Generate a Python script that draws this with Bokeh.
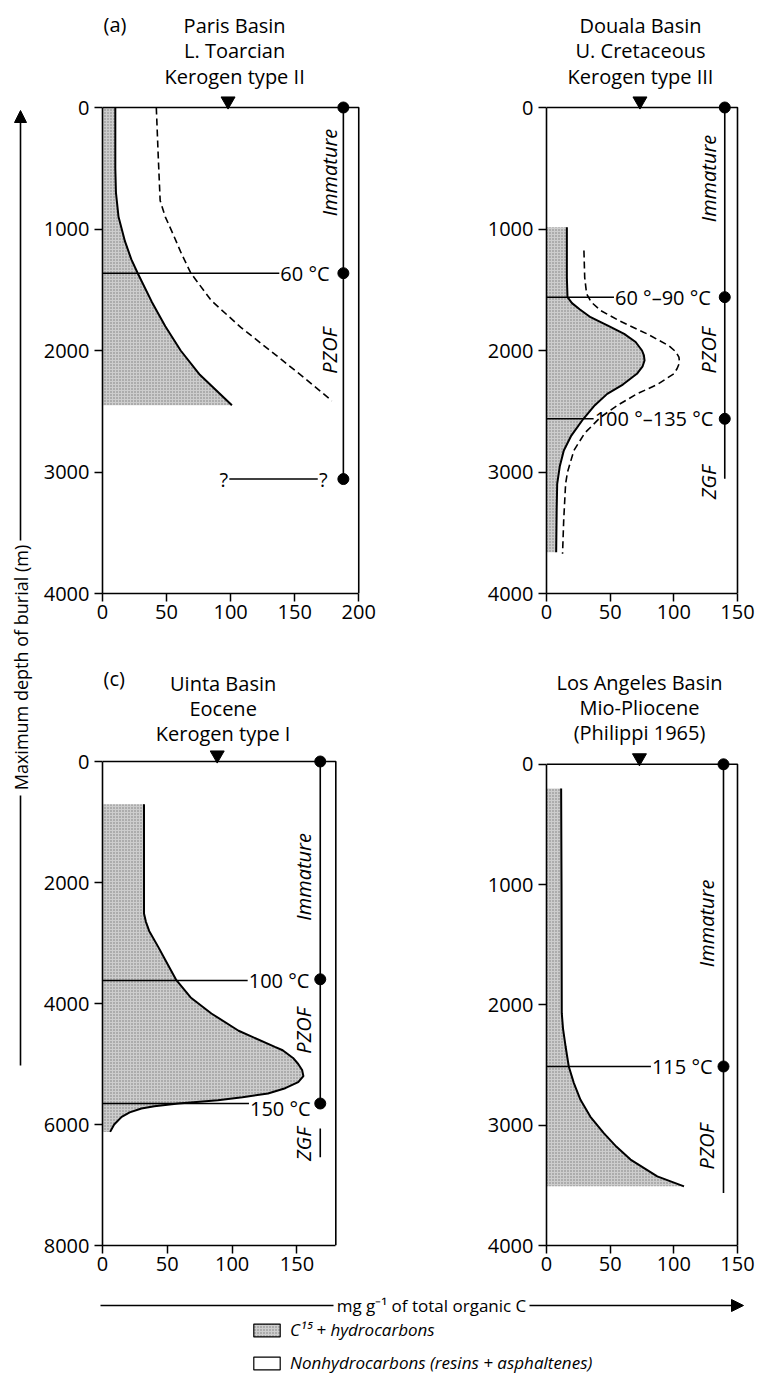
import numpy as np
from bokeh.plotting import figure
from bokeh.models import Range1d, FixedTicker, Arrow, NormalHead, Legend, LegendItem, Label
from bokeh.layouts import row, column
from bokeh.embed import file_html
from bokeh.resources import INLINE
from bokeh.core.properties import value

FONT = "Open Sans"

# ---------------- data ----------------
# (a) Paris Basin, L. Toarcian, kerogen type II
A_HC_DEPTH = [0, 500, 700, 900, 1100, 1250, 1364, 1600, 1800, 2000, 2200, 2450]
A_HC = [10, 10, 10.5, 12.5, 17.5, 22.5, 27.5, 38.5, 49, 61, 76, 101]
A_TOT_DEPTH = [0, 400, 766, 900, 1040, 1200, 1364, 1590, 1810, 2002, 2221, 2414]
A_TOT = [42, 43.5, 45, 49, 55, 61.5, 69, 85, 108, 131, 157, 179]
A_TEMP_DEPTH = [1364]
A_TEMP_END = [138]
A_TEMP_LABEL = ["60 °C"]
A_DOTS = [0, 1364, 3058]
A_ZONE_LINE = [(0, 3058)]
A_ZONES = ["Immature", "PZOF"]
A_ZONE_DEPTH = [535, 2002]
A_UNKNOWN_DEPTH = 3058
A_UNKNOWN_SPAN = (99, 168)

# (b) Douala Basin, U. Cretaceous, kerogen type III
B_HC_DEPTH = [985, 1200, 1400, 1561, 1610, 1660, 1726, 1800, 1863, 1930, 2000, 2040, 2082, 2130,
              2192, 2280, 2357, 2450, 2562, 2700, 2823, 2950, 3097, 3300, 3660]
B_HC = [16, 16, 16, 16.5, 20, 26, 34.6, 49, 61, 70, 75, 76.5, 77, 75.5,
        71, 60, 47.7, 38, 29, 19.5, 13.6, 10.5, 8.4, 8, 7.6]
B_TOT_DEPTH = [1177, 1400, 1533, 1600, 1671, 1760, 1863, 1960, 2010, 2055, 2100, 2150, 2192, 2280,
               2357, 2450, 2549, 2680, 2823, 3000, 3097, 3400, 3673]
B_TOT = [29.4, 30, 31.5, 35, 42.5, 58, 79, 96, 101.5, 104, 104.5, 102.5, 100, 87,
         71, 56, 42.5, 30, 21.5, 16.5, 15, 13.5, 12.6]
B_TEMP_DEPTH = [1561, 2562]
B_TEMP_END = [53, 37]
B_TEMP_LABEL = ["60 °–90 °C", "100 °–135 °C"]
B_DOTS = [0, 1561, 2562]
B_ZONE_LINE = [(0, 3056)]
B_ZONES = ["Immature", "PZOF", "ZGF"]
B_ZONE_DEPTH = [584, 2000, 3086]

# (c) Uinta Basin, Eocene, kerogen type I
C_HC_DEPTH = [706, 1500, 2512, 2650, 2800, 3064, 3300, 3615, 3900, 4165, 4450, 4717, 4772,
              4900, 5000, 5100, 5200, 5300, 5400, 5488, 5550, 5598, 5653, 5700, 5736,
              5800, 5874, 6000, 6122]
C_HC = [32, 32, 32, 33.5, 36, 43, 49, 57, 68, 84, 105, 133, 139,
        147, 151, 154, 155, 151, 141, 127.7, 108, 89, 58.5, 40, 30,
        21, 14.8, 9, 5.9]
C_TEMP_DEPTH = [3620, 5653]
C_TEMP_END = [112, 113]
C_TEMP_LABEL = ["100 °C", "150 °C"]
C_DOTS = [0, 3600, 5653]
C_ZONE_LINE = [(0, 5653), (6066, 6543)]
C_ZONES = ["Immature", "PZOF", "ZGF"]
C_ZONE_DEPTH = [1907, 4450, 6325]

# (d) Los Angeles Basin, Mio-Pliocene
D_HC_DEPTH = [202, 1000, 2069, 2200, 2346, 2512, 2650, 2789, 2930, 3066, 3180, 3286, 3425, 3508]
D_HC = [11.5, 11.8, 12, 13, 15, 17.5, 21.5, 26.7, 34.5, 45, 55, 66, 87, 108]
D_TEMP_DEPTH = [2512]
D_TEMP_END = [82]
D_TEMP_LABEL = ["115 °C"]
D_DOTS = [0, 2512]
D_ZONE_LINE = [(0, 3563)]
D_ZONES = ["Immature", "PZOF"]
D_ZONE_DEPTH = [1322, 3178]

DEPTH_TICKS_4000 = [0, 1000, 2000, 3000, 4000]
DEPTH_TICKS_8000 = [0, 2000, 4000, 6000, 8000]
CONC_TICKS_200 = [0, 50, 100, 150, 200]
CONC_TICKS_150 = [0, 50, 100, 150]

HC_FILL = "#cdcdcd"
INK = "black"


def make_panel(cfg):
    fx, fy, fw, fh = cfg["box"]
    x0px, sx, y0px, sy = cfg["calib"]
    xmax, ymax = cfg["xmax"], cfg["ymax"]
    bottom_px = y0px + ymax * sy
    p = figure(width=fw, height=fh, output_backend="svg", toolbar_location=None,
               x_range=Range1d(0, (fx + fw - x0px) / sx),
               y_range=Range1d(ymax, -(y0px - fy) / sy),
               min_border_left=int(round(x0px - fx)), min_border_right=0,
               min_border_top=0, min_border_bottom=int(round(fy + fh - bottom_px)))
    p.outline_line_color = None
    p.xgrid.visible = False
    p.ygrid.visible = False
    for ax, ticks, bounds in ((p.xaxis[0], cfg["xticks"], (0, xmax)),
                              (p.yaxis[0], cfg["yticks"], (0, ymax))):
        ax.ticker = FixedTicker(ticks=ticks)
        ax.bounds = bounds
        ax.minor_tick_line_color = None
        ax.major_tick_out = 8
        ax.major_tick_in = 0
        ax.major_tick_line_width = 1.5
        ax.major_tick_line_color = INK
        ax.axis_line_width = 1.6
        ax.axis_line_color = INK
        ax.major_label_text_font = FONT
        ax.major_label_text_font_size = "20px"
        ax.major_label_text_color = INK
    p.xaxis.major_label_standoff = 3
    p.yaxis.major_label_standoff = 5

    def px2d(px, py):
        return (px - x0px) / sx, (py - y0px) / sy

    # shaded C15+ hydrocarbons
    p.harea(x1=0, x2=cfg["hc"], y=cfg["hc_d"], fill_color=HC_FILL,
            hatch_pattern="dot", hatch_color="#7a7a7a", hatch_scale=3, hatch_weight=0.8)
    p.line(cfg["hc"], cfg["hc_d"], line_color=INK, line_width=2)
    if cfg.get("tot") is not None:
        p.line(cfg["tot"], cfg["tot_d"], line_color=INK, line_width=1.6, line_dash="7 4")

    # frame: top and right sides
    p.line([0, xmax, xmax], [0, 0, ymax], line_color=INK, line_width=1.6)

    # temperature lines
    td, te, tl = cfg["temp_d"], cfg["temp_end"], cfg["temp_lab"]
    p.segment(x0=[0] * len(td), y0=td, x1=te, y1=td, line_color=INK, line_width=1.5)
    p.text(x=[e + 0.8 for e in te], y=td, text=tl, text_font=value(FONT), text_color=INK,
           text_font_size="20px", text_align="left", text_baseline="middle",
           y_offset=cfg.get("temp_yoff", [0] * len(td)))

    # zone line with dots
    zx = cfg["zone_x"]
    segs = cfg["zone_line"]
    p.segment(x0=[zx] * len(segs), y0=[s[0] for s in segs], x1=[zx] * len(segs),
              y1=[s[1] for s in segs], line_color=INK, line_width=1.6)
    p.scatter([zx] * len(cfg["dots"]), cfg["dots"], size=11, color=INK)
    p.text(x=[cfg["zone_lab_x"]] * len(cfg["zones"]), y=cfg["zone_d"], text=cfg["zones"],
           angle=np.pi / 2, text_font=value(FONT), text_font_style="italic", text_color=INK,
           text_font_size="20px", text_align="center", text_baseline="middle")

    # surface marker
    p.scatter([cfg["tri_x"]], [-6.5 / sy], marker="inverted_triangle", size=14, color=INK)

    # titles
    tcx = cfg["title_cx"]
    xs, ys = [], []
    for py in cfg["title_py"]:
        dx, dy = px2d(tcx, py)
        xs.append(dx)
        ys.append(dy)
    p.text(x=xs, y=ys, text=cfg["title"], text_font=value(FONT), text_font_size="20px",
           text_color=INK, text_align="center", text_baseline="middle")
    lx, ly = px2d(*cfg["letter_px"])
    p.add_layout(Label(x=lx, y=ly, text=cfg["letter"], text_font=FONT, text_font_size="20px",
                       text_color=INK, text_align="left", text_baseline="middle"))
    return p


pa = make_panel(dict(box=(40, 0, 400, 650), calib=(101, 1.285, 107, 0.1215), xmax=200, ymax=4000,
                     xticks=CONC_TICKS_200, yticks=DEPTH_TICKS_4000,
                     hc=A_HC, hc_d=A_HC_DEPTH, tot=A_TOT, tot_d=A_TOT_DEPTH,
                     temp_d=A_TEMP_DEPTH, temp_end=A_TEMP_END, temp_lab=A_TEMP_LABEL,
                     zone_x=188, zone_line=A_ZONE_LINE, dots=A_DOTS, zones=A_ZONES,
                     zone_d=A_ZONE_DEPTH, zone_lab_x=177, tri_x=98,
                     title=["Paris Basin", "L. Toarcian", "Kerogen type II"], title_cx=233.5,
                     title_py=[25, 50, 76], letter="(a)", letter_px=(102, 24)))
# unknown lower limit in (a)
pa.segment(x0=[A_UNKNOWN_SPAN[0]], y0=[A_UNKNOWN_DEPTH], x1=[A_UNKNOWN_SPAN[1]], y1=[A_UNKNOWN_DEPTH],
           line_color=INK, line_width=1.5)
pa.text(x=[A_UNKNOWN_SPAN[0] - 1, A_UNKNOWN_SPAN[1] + 1], y=[A_UNKNOWN_DEPTH] * 2, text=["?", "?"],
        text_align=["right", "left"], text_baseline="middle", text_font=value(FONT),
        text_font_size="20px", text_color=INK)

pb = make_panel(dict(box=(440, 0, 318, 650), calib=(546, 1.2733, 107, 0.1215), xmax=150, ymax=4000,
                     xticks=CONC_TICKS_150, yticks=DEPTH_TICKS_4000,
                     hc=B_HC, hc_d=B_HC_DEPTH, tot=B_TOT, tot_d=B_TOT_DEPTH,
                     temp_d=B_TEMP_DEPTH, temp_end=B_TEMP_END, temp_lab=B_TEMP_LABEL,
                     zone_x=140, zone_line=B_ZONE_LINE, dots=B_DOTS, zones=B_ZONES,
                     zone_d=B_ZONE_DEPTH, zone_lab_x=127, tri_x=73.4,
                     title=["Douala Basin", "U. Cretaceous", "Kerogen type III"], title_cx=640,
                     title_py=[25, 50, 76], letter="(b)", letter_px=(509, 24)))

pc = make_panel(dict(box=(40, 650, 400, 640), calib=(101, 1.3, 761, 0.0605), xmax=180, ymax=8000,
                     xticks=CONC_TICKS_150, yticks=DEPTH_TICKS_8000,
                     hc=C_HC, hc_d=C_HC_DEPTH, tot=None,
                     temp_d=C_TEMP_DEPTH, temp_end=C_TEMP_END, temp_lab=C_TEMP_LABEL,
                     temp_yoff=[0, 5],
                     zone_x=168, zone_line=C_ZONE_LINE, dots=C_DOTS, zones=C_ZONES,
                     zone_d=C_ZONE_DEPTH, zone_lab_x=155, tri_x=88.5,
                     title=["Uinta Basin", "Eocene", "Kerogen type I"], title_cx=222,
                     title_py=[683, 708, 733], letter="(c)", letter_px=(102, 678)))

pd_ = make_panel(dict(box=(440, 650, 318, 640), calib=(546, 1.2733, 764, 0.1205), xmax=150, ymax=4000,
                      xticks=CONC_TICKS_150, yticks=DEPTH_TICKS_4000,
                      hc=D_HC, hc_d=D_HC_DEPTH, tot=None,
                      temp_d=D_TEMP_DEPTH, temp_end=D_TEMP_END, temp_lab=D_TEMP_LABEL,
                      zone_x=139, zone_line=D_ZONE_LINE, dots=D_DOTS, zones=D_ZONES,
                      zone_d=D_ZONE_DEPTH, zone_lab_x=126, tri_x=73,
                      title=["Los Angeles Basin", "Mio-Pliocene", "(Philippi 1965)"], title_cx=639,
                      title_py=[682, 707, 732], letter="(d)", letter_px=(509, 678)))

# ---------------- shared axis titles ----------------
left = figure(width=40, height=1290, output_backend="svg", toolbar_location=None,
              x_range=Range1d(0, 40), y_range=Range1d(1290, 0),
              x_axis_location=None, y_axis_location=None, min_border=0)
left.outline_line_color = None
left.xgrid.visible = False
left.ygrid.visible = False
left.segment(x0=[20], y0=[1065], x1=[20], y1=[795], line_color=INK, line_width=1.6)
left.add_layout(Arrow(end=NormalHead(size=12, fill_color=INK, line_color=INK),
                      x_start=20, y_start=540, x_end=20, y_end=110,
                      line_color=INK, line_width=1.6))
left.text(x=[20], y=[667], text=["Maximum depth of burial (m)"], angle=np.pi / 2,
          text_font=value(FONT), text_font_size="18px", text_color=INK,
          text_align="center", text_baseline="middle")

bottom = figure(width=758, height=100, output_backend="svg", toolbar_location=None,
                x_range=Range1d(0, 758), y_range=Range1d(1390, 1290),
                x_axis_location=None, y_axis_location=None, min_border=0)
bottom.outline_line_color = None
bottom.xgrid.visible = False
bottom.ygrid.visible = False
bottom.segment(x0=[100], y0=[1305], x1=[333], y1=[1305], line_color=INK, line_width=1.6)
bottom.add_layout(Arrow(end=NormalHead(size=12, fill_color=INK, line_color=INK),
                        x_start=529, y_start=1305, x_end=743, y_end=1305,
                        line_color=INK, line_width=1.6))
bottom.text(x=[431], y=[1305], text=["mg g⁻¹ of total organic C"], text_font=value(FONT),
            text_font_size="17px", text_color=INK, text_align="center", text_baseline="middle")

# legend swatches (renderers placed outside the visible range; only their legend glyphs show)
r_hc = bottom.quad(left=[-60], right=[-50], top=[1300], bottom=[1310], fill_color=HC_FILL,
                   hatch_pattern="dot", hatch_color="#7a7a7a", hatch_scale=3, hatch_weight=0.8,
                   line_color=INK, line_width=1.2)
r_non = bottom.quad(left=[-60], right=[-50], top=[1300], bottom=[1310], fill_color="white",
                    line_color=INK, line_width=1.2)
legend = Legend(items=[LegendItem(label="C¹⁵ + hydrocarbons", renderers=[r_hc]),
                       LegendItem(label="Nonhydrocarbons (resins + asphaltenes)", renderers=[r_non])],
                location=(250, 16), orientation="vertical", background_fill_alpha=0,
                border_line_color=None, padding=0, margin=0, spacing=10,
                glyph_width=33, glyph_height=16, label_standoff=7, label_text_color=INK,
                label_text_font=FONT, label_text_font_style="italic", label_text_font_size="17px")
bottom.add_layout(legend)

layout = column(row(left, column(row(pa, pb), row(pc, pd_))), bottom)

open("out.html", "w").write(file_html(layout, INLINE))
